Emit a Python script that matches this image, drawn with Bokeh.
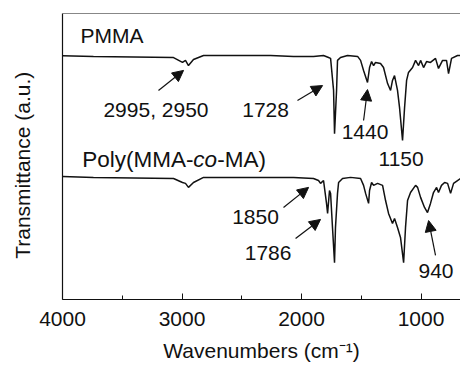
from bokeh.plotting import figure
from bokeh.models import Range1d, FixedTicker, Label, Arrow, NormalHead, Span
from bokeh.embed import file_html
from bokeh.resources import INLINE

# ---- data (wavenumber in cm^-1, transmittance in a.u.) ----
pmma_wn = [4000, 3741, 3071, 2996, 2971, 2946, 2904, 2820, 2259, 2067, 1900, 1816,
           1774, 1757, 1732, 1724, 1707, 1699, 1674, 1615, 1531, 1506, 1481, 1448,
           1431, 1414, 1397, 1381, 1339, 1314, 1280, 1255, 1239, 1222, 1197, 1180,
           1155, 1138, 1121, 1105, 1071, 1046, 1021, 1004, 979, 954, 921, 879, 854,
           820, 787, 770, 745, 695, 670]
pmma_t = [85.2, 85.0, 84.6, 82.9, 83.6, 81.8, 83.9, 85.3, 85.3, 85.0, 85.0, 85.3,
          84.6, 84.3, 73.1, 58.0, 73.1, 83.6, 84.6, 85.3, 85.0, 83.6, 80.1, 75.9,
          81.1, 83.2, 81.8, 82.9, 82.5, 81.1, 75.5, 73.1, 76.6, 78.3, 73.1, 67.1,
          55.6, 67.1, 76.6, 79.4, 81.1, 83.6, 81.8, 83.6, 81.1, 83.2, 82.9, 84.3, 80.8,
          83.6, 83.6, 79.0, 84.3, 85.3, 85.3]

copoly_wn = [4000, 3741, 3071, 2996, 2971, 2946, 2904, 2820, 2067, 1900, 1858, 1841,
             1816, 1791, 1782, 1766, 1757, 1741, 1724, 1716, 1699, 1690, 1657, 1590,
             1506, 1481, 1464, 1439, 1431, 1414, 1397, 1364, 1322, 1297, 1272, 1239,
             1222, 1197, 1172, 1146, 1130, 1113, 1088, 1046, 1029, 1004, 971, 946, 921,
             896, 870, 854, 829, 803, 778, 753, 728, 695, 670]
copoly_t = [43.0, 42.7, 42.3, 40.9, 40.6, 39.2, 40.9, 42.7, 42.7, 42.3, 41.6, 40.6,
            41.6, 33.6, 30.1, 38.1, 37.1, 25.2, 12.9, 25.2, 37.1, 40.9, 42.3, 42.7,
            42.3, 39.9, 37.1, 33.6, 38.1, 40.9, 39.9, 40.6, 39.9, 34.6, 30.1, 26.6,
            28.3, 25.2, 21.7, 12.9, 25.2, 34.6, 37.4, 39.9, 39.2, 35.7, 32.2, 30.4, 33.6,
            37.4, 39.2, 37.4, 39.9, 40.9, 40.6, 37.1, 40.6, 41.6, 42.3]

x_ticks = [4000, 3000, 2000, 1000]
x_minor_ticks = [3500, 2500, 1500]

peak_labels = ["2995, 2950", "1728", "1440", "1150", "1850", "1786", "940"]
series_labels = ["PMMA", "Poly(MMA-", "co", "-MA)"]
x_title = "Wavenumbers (cm\u207b\u00b9)"
y_title = "Transmittance (a.u.)"

# ---- layout / annotation placement ----
FONT = "Liberation Sans"
INK = "#111111"
FS = "21px"

label_pos = [(3218, 66.3), (2301, 66.3), (1469, 58.4), (1167, 49.1),
             (2385, 28.7), (2280, 16.4), (875, 10.1)]
arrow_pos = [(3197, 73.1, 2987, 80.1),
             (2034, 69.6, 1824, 74.8),
             (1481, 62.6, 1448, 73.4),
             (2151, 32.2, 1941, 39.2),
             (2050, 21.3, 1841, 28.0),
             (879, 15.4, 937, 27.6)]

p = figure(width=460, height=365, output_backend="svg", toolbar_location=None,
           x_range=Range1d(4000, 670), y_range=Range1d(0, 100),
           min_border_left=62, min_border_right=0, min_border_top=13,
           min_border_bottom=66)
p.grid.visible = False
p.outline_line_color = None
p.background_fill_color = "white"
p.border_fill_color = "white"

xa = p.xaxis[0]
xa.ticker = FixedTicker(ticks=x_ticks, minor_ticks=x_minor_ticks)
xa.major_tick_in = 6
xa.major_tick_out = 0
xa.minor_tick_in = 4
xa.minor_tick_out = 0
xa.major_tick_line_color = INK
xa.minor_tick_line_color = INK
xa.axis_line_color = INK
xa.axis_line_width = 1.2
xa.major_label_text_font = FONT
xa.major_label_text_font_size = FS
xa.major_label_text_color = INK
xa.major_label_standoff = 12
xa.axis_label = x_title
xa.axis_label_text_font = FONT
xa.axis_label_text_font_size = FS
xa.axis_label_text_font_style = "normal"
xa.axis_label_text_color = INK
xa.axis_label_standoff = 10

ya = p.yaxis[0]
ya.ticker = FixedTicker(ticks=[])
ya.major_tick_in = 0
ya.major_tick_out = 0
ya.minor_tick_in = 0
ya.minor_tick_out = 0
ya.axis_line_color = INK
ya.axis_line_width = 1.2
ya.major_label_text_font_size = "0px"
ya.major_label_standoff = 0
ya.axis_label = y_title + "\u00a0\u00a0\u00a0"
ya.axis_label_text_font = FONT
ya.axis_label_text_font_size = FS
ya.axis_label_text_font_style = "normal"
ya.axis_label_text_color = INK
ya.axis_label_standoff = 29

p.add_layout(Span(location=100, dimension="width", line_color=INK, line_width=1.2))

p.line(pmma_wn, pmma_t, line_color=INK, line_width=1.5)
p.line(copoly_wn, copoly_t, line_color=INK, line_width=1.5)

for txt, (x, y) in zip(peak_labels, label_pos):
    p.add_layout(Label(x=x, y=y, text=txt, text_font=FONT, text_font_size=FS,
                       text_color=INK, text_align="center", text_baseline="alphabetic"))

for (xs, ys, xe, ye) in arrow_pos:
    p.add_layout(Arrow(x_start=xs, y_start=ys, x_end=xe, y_end=ye,
                       line_color=INK, line_width=1.2,
                       end=NormalHead(size=11, fill_color=INK, line_color=INK)))

# series names
p.add_layout(Label(x=3849, y=92.2, text=series_labels[0], text_font=FONT,
                   text_font_size=FS, text_color=INK, text_align="left",
                   text_baseline="alphabetic"))
PFS = "22.5px"
p.add_layout(Label(x=3835, y=48.8, text=series_labels[1], text_font=FONT,
                   text_font_size=PFS, text_color=INK, text_align="left",
                   text_baseline="alphabetic"))
p.add_layout(Label(x=3835, y=48.8, x_offset=111, text=series_labels[2], text_font=FONT,
                   text_font_size=PFS, text_font_style="italic", text_color=INK,
                   text_align="left", text_baseline="alphabetic"))
p.add_layout(Label(x=3835, y=48.8, x_offset=135, text=series_labels[3], text_font=FONT,
                   text_font_size=PFS, text_color=INK, text_align="left",
                   text_baseline="alphabetic"))

open("out.html", "w").write(file_html(p, INLINE))
